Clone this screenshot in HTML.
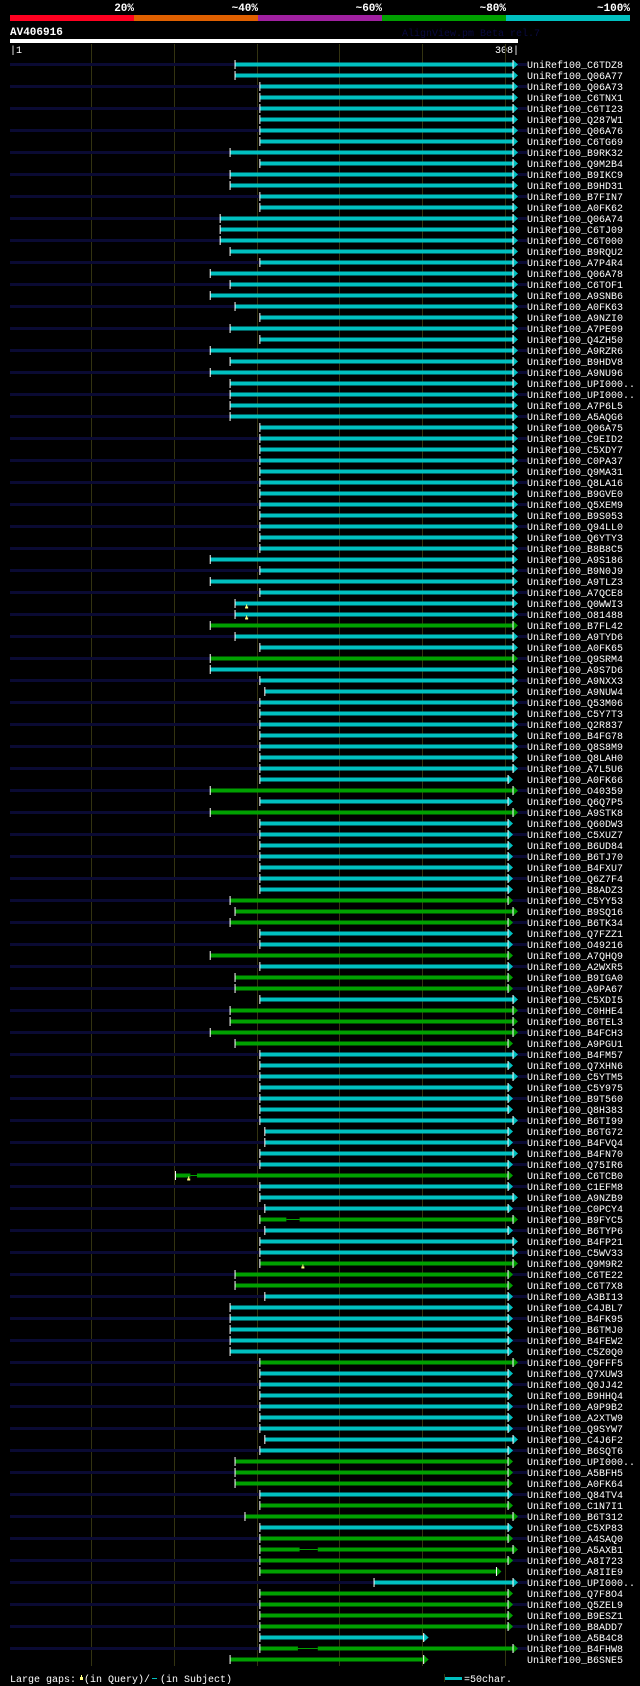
<!DOCTYPE html>
<html><head><meta charset="utf-8"><style>
html,body{margin:0;padding:0;background:#000;}
svg{display:block;}
text{font-family:"Liberation Mono",monospace;}
</style></head><body>
<svg id="chart" width="640" height="1686" viewBox="0 0 640 1686" xmlns="http://www.w3.org/2000/svg">
<rect x="0" y="0" width="640" height="1686" fill="#000"/>
<g>
<rect x="10" y="15" width="124" height="6" fill="#ff0020"/>
<rect x="134" y="15" width="124" height="6" fill="#e06000"/>
<rect x="258" y="15" width="124" height="6" fill="#a020a0"/>
<rect x="382" y="15" width="124" height="6" fill="#00a000"/>
<rect x="506" y="15" width="124" height="6" fill="#00c0c0"/>
<text x="134" y="11" fill="#fff" font-size="11" font-weight="bold" text-anchor="end">20%</text>
<text x="258" y="11" fill="#fff" font-size="11" font-weight="bold" text-anchor="end">~40%</text>
<text x="382" y="11" fill="#fff" font-size="11" font-weight="bold" text-anchor="end">~60%</text>
<text x="506" y="11" fill="#fff" font-size="11" font-weight="bold" text-anchor="end">~80%</text>
<text x="630" y="11" fill="#fff" font-size="11" font-weight="bold" text-anchor="end">~100%</text>
</g>
<text x="10" y="35" fill="#fff" font-size="11" font-weight="bold">AV406916</text>
<text x="402" y="36" fill="#0a0a40" font-size="10">AlignView.pm Beta rel.7</text>
<rect x="10" y="39" width="508" height="4" fill="#fff"/>
<text x="10" y="53" fill="#fff" font-size="10">|1</text>
<text x="519" y="53" fill="#fff" font-size="10" text-anchor="end">308|</text>
<g id="grid"></g>
<g id="rows"></g>
<g>
<text x="10" y="1682" fill="#fff" font-size="10">Large gaps:</text>
<rect x="81" y="1675" width="1" height="3" fill="#ffff80"/>
<rect x="80" y="1677" width="3" height="3" fill="#ffff80"/>
<text x="84" y="1682" fill="#fff" font-size="10">(in Query)/</text>
<rect x="152" y="1678" width="5" height="1" fill="#00c0c0"/>
<text x="160" y="1682" fill="#fff" font-size="10">(in Subject)</text>
<rect x="444" y="1674" width="1" height="8" fill="#333311"/>
<rect x="445" y="1677" width="17" height="3" fill="#00c0c0"/>
<text x="464" y="1682" fill="#fff" font-size="10">=50char.</text>
</g>
</svg>
<script>
const names = ["C6TDZ8","Q06A77","Q06A73","C6TNX1","C6TI23","Q287W1","Q06A76","C6TG69","B9RK32","Q9M2B4","B9IKC9","B9HD31","B7FIN7","A0FK62","Q06A74","C6TJ09","C6T000","B9RQU2","A7P4R4","Q06A78","C6TOF1","A9SNB6","A0FK63","A9NZI0","A7PE09","Q4ZH50","A9RZR6","B9HDV8","A9NU96","UPI000..","UPI000..","A7P6L5","A5AQG6","Q06A75","C9EID2","C5XDY7","C0PA37","Q9MA31","Q8LA16","B9GVE0","Q5XEM9","B9S053","Q94LL0","Q6YTY3","B8B8C5","A9S186","B9N0J9","A9TLZ3","A7QCE8","Q0WWI3","O81488","B7FL42","A9TYD6","A0FK65","Q9SRM4","A9S7D6","A9NXX3","A9NUW4","Q53M06","C5Y7T3","Q2R837","B4FG78","Q8S8M9","Q8LAH0","A7L5U6","A0FK66","O40359","Q6Q7P5","A9STK8","Q60DW3","C5XUZ7","B6UD84","B6TJ70","B4FXU7","Q6Z7F4","B8ADZ3","C5YY53","B9SQ16","B6TK34","Q7FZZ1","O49216","A7QHQ9","A2WXR5","B9IGA0","A9PA67","C5XDI5","C0HHE4","B6TEL3","B4FCH3","A9PGU1","B4FM57","Q7XHN6","C5YTM5","C5Y975","B9T560","Q8H383","B6TI99","B6TG72","B4FVQ4","B4FN70","Q75IR6","C6TCB0","C1EFM8","A9NZB9","C0PCY4","B9FYC5","B6TYP6","B4FP21","C5WV33","Q9M9R2","C6TE22","C6T7X8","A3BI13","C4JBL7","B4FK95","B6TMJ0","B4FEW2","C5Z0Q0","Q9FFF5","Q7XUW3","Q0JJ42","B9HHQ4","A9P9B2","A2XTW9","Q9SYW7","C4J6F2","B6SQT6","UPI000..","A5BFH5","A0FK64","Q84TV4","C1N7I1","B6T312","C5XP83","A4SAQ0","A5AXB1","A8I723","A8IIE9","UPI000..","Q7F8O4","Q5ZEL9","B9ESZ1","B8ADD7","A5B4C8","B4FHW8","B6SNE5"];
const starts = [137,137,152,152,152,152,152,152,134,152,134,134,152,152,128,128,128,134,152,122,134,122,137,152,134,152,122,134,122,134,134,134,134,152,152,152,152,
152,152,152,152,152,152,152,152,122,152,122,152,137,137,122,137,152,122,122,152,155,152,152,152,152,152,152,152,152,122,152,122,152,152,152,152,152,
152,152,134,137,134,152,152,122,152,137,137,152,134,134,122,137,152,152,152,152,152,152,152,155,155,152,152,101,152,152,155,152,155,152,152,152,137,
137,155,134,134,134,134,134,152,152,152,152,152,152,152,155,152,137,137,137,152,152,143,152,152,152,152,152,221,152,152,152,152,152,152,134];
const ends = [308,308,308,308,308,308,308,308,308,308,308,308,308,308,308,308,308,308,308,308,308,308,308,308,308,308,308,308,308,308,308,308,308,308,308,308,308,
308,308,308,308,308,308,308,308,308,308,308,308,308,308,308,308,308,308,308,308,308,308,308,308,308,308,308,308,305,308,305,308,305,305,305,305,305,
305,305,305,308,305,305,305,305,305,305,305,308,308,308,308,305,308,305,308,305,305,305,308,305,305,308,305,305,305,308,305,308,305,308,308,308,305,
305,305,305,305,305,305,305,308,305,305,305,305,305,305,308,305,305,305,305,305,305,308,305,305,308,305,298,308,305,305,305,305,254,308,254];
const colors = "CCCCCCCCCCCCCCCCCCCCCCCCCCCCCCCCCCCCCCCCCCCCCCCCCCCGCCGCCCCCCCCCCCGCGCCCCCCCGGGCCGCGGCGGGGCCCCCCCCCCCGCCCGCCCGGGCCCCCCGCCCCCCCCGGGCGGCGGGGCGGGGCGG";
// subject gaps: [rowIndex, fromResidue, toResidue]
const subjectGaps = [[101,110,114],[105,168,176],[135,176,187],[144,175,187]];
// query gaps: [rowIndex, residue]
const queryGaps = [[49,144],[50,144],[101,109],[109,178]];
const gridTicks = [50,100,150,200,250,300];

const NS = "http://www.w3.org/2000/svg";
const X0 = 10, X1 = 518, R0 = 1, R1 = 308;
function xs(r){ return X0 + (r - R0) * (X1 - X0) / (R1 - R0); }
function ys(i){ return 64.5 + i * 11; }
const COL = {C:"#00c0c0", G:"#00a000"};
function mk(tag, attrs, parent){ const e = document.createElementNS(NS, tag); for (const k in attrs) e.setAttribute(k, attrs[k]); parent.appendChild(e); return e; }

const grid = document.getElementById('grid');
gridTicks.forEach(t => {
  const l = mk('rect', {x: Math.round(xs(t)), y: 44, width: 1, height: 1622, fill: '#333311'}, grid);
  
  
});

const rowsG = document.getElementById('rows');
names.forEach((n, i) => {
  const y = ys(i);
  const g = mk('g', {}, rowsG);
  
  
  if (i % 2 === 0) {
    const bg = mk('rect', {x: 10, y: y - 1.5, width: 517, height: 3, fill: '#0a0a33'}, g);
    
    
  }
  const c = COL[colors[i]];
  const xa = xs(starts[i]), xt = xs(ends[i]), xe = xt - 5;
  const bar = mk('rect', {x: xa, y: y - 2, width: Math.max(0, xe - xa), height: 4, fill: c}, g);
  
  
  const st = mk('rect', {x: xa - 0.5, y: y - 4.5, width: 1, height: 9, fill: '#fff'}, g);
  
  
  const ar = mk('polygon', {points: `${xe},${y-4.5} ${xt},${y} ${xe},${y+4.5}`, fill: c}, g);
  
  
  const et = mk('rect', {x: xe - 0.5, y: y - 4.5, width: 1, height: 9, fill: '#fff'}, g);
  
  
  const tx = mk('text', {x: 527, y: y + 3.5, fill: '#fff', 'font-size': 10}, g);
  tx.textContent = 'UniRef100_' + n;
  
  
});
subjectGaps.forEach(([i, a, b]) => {
  const y = ys(i);
  const gp = mk('rect', {x: xs(a), y: y - 2, width: xs(b) - xs(a), height: 4, fill: '#000'}, rowsG);
  
  
  const ln = mk('rect', {x: xs(a), y: y - 0.5, width: xs(b) - xs(a), height: 1, fill: COL[colors[i]]}, rowsG);
  
  
});
queryGaps.forEach(([i, r]) => {
  const y = ys(i), x = xs(r);
  const s = mk('rect', {x: x - 0.5, y: y + 1, width: 1, height: 3, fill: '#ffff80'}, rowsG);
  
  
  const m = mk('rect', {x: x - 1.5, y: y + 3, width: 3, height: 2, fill: '#ffff80'}, rowsG);
  
  
});
</script>
</body></html>
